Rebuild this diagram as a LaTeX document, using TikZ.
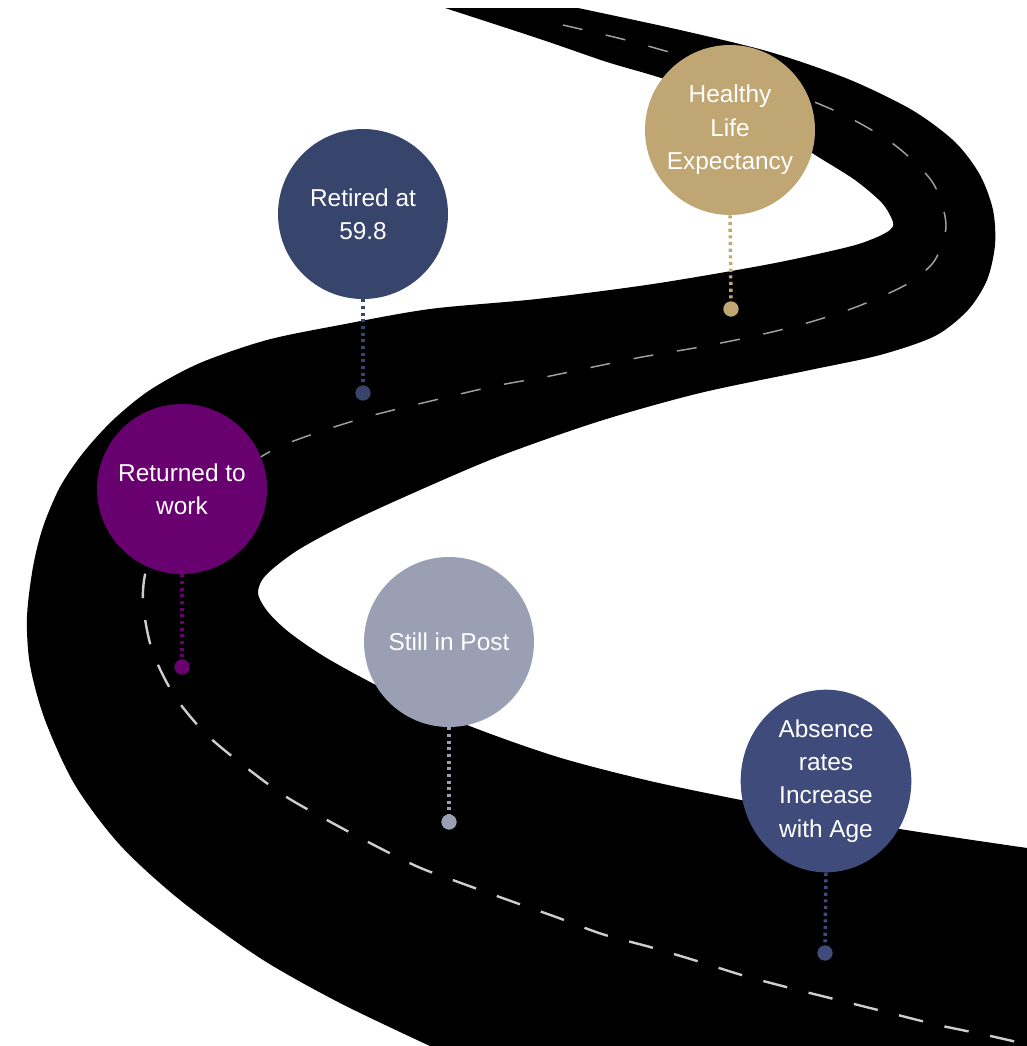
\documentclass[tikz,border=0pt]{standalone}
\usepackage{fontspec}
\setmainfont{Liberation Sans}
\usetikzlibrary{shapes.geometric}
\definecolor{cTan}{RGB}{191,166,114}
\definecolor{cNavy}{RGB}{55,68,108}
\definecolor{cPurple}{RGB}{105,0,112}
\definecolor{cLav}{RGB}{154,159,180}
\definecolor{cBlue}{RGB}{63,76,123}
\definecolor{cDashA}{RGB}{160,160,160}
\definecolor{cDashB}{RGB}{205,205,205}
\begin{document}
\begin{tikzpicture}[x=0.75pt,y=-0.75pt,
  bubble/.style={circle, fill=#1, minimum size=127.5pt, inner sep=0pt, text=white, align=center, font=\fontsize{18.3}{25}\selectfont},
  dotnode/.style={circle, fill=#1, minimum size=11.5pt, inner sep=0pt},
  stemline/.style={draw=#1, line width=2.6pt, dash pattern=on 2.4pt off 2.6pt},
  farlane/.style={draw=cDashA, line width=1.1pt, dash pattern=on 15pt off 18pt},
  nearlane/.style={draw=cDashB, line width=1.8pt, dash pattern=on 18.5pt off 16.5pt}
]
\useasboundingbox (0,0) rectangle (1027,1046);
\fill[white] (0,0) rectangle (1027,1046);
% road
\fill[black] (445,8) -- plot[smooth] coordinates {(578,8) (680,30) (770,52) (848,79) (912,110) (955,142) (980,175) (993,210) (995,245) (987,280) (968,310) (935,336) (880,355) (810,370) (700,393) (600,421) (500,456) (420,490) (350,522) (298,550) (266,575) (258,593) (268,612) (290,633) (330,660) (400,697) (480,730) (561,758) (650,781) (741,800) (820,815) (906,830) (1027,848)}
  -- (1027,1046) -- plot[smooth] coordinates {(430,1046) (340,1003) (260,958) (180,900) (120,845) (75,785) (45,720) (30,665) (27,617) (33,567) (43,527) (60,487) (83,453) (113,420) (150,390) (200,363) (267,340) (340,325) (430,309) (537,299) (653,284) (770,264) (848,247) (875,238) (890,230) (893,222) (882,203) (855,180) (820,158) (780,133) (730,106) (667,80) (607,62) (540,39) (445,8)} -- cycle;
% lane markings
\draw[farlane] plot[smooth] coordinates {(563,25) (622,39) (669,52) (730,70) (790,92) (848,117) (896,146) (933,183) (946,225) (935,260) (912,281) (885,295) (848,310) (800,325) (750,337) (700,347) (642,357) (593,367) (545,377) (495,386) (435,400) (374,415) (325,430) (279,447) (240,470) (200,500)};
\draw[nearlane] plot[smooth] coordinates {(200,500) (165,535) (147,567) (143,602) (152,650) (174,695) (205,733) (243,765) (285,796) (327,820) (370,843) (416,866) (450,879) (508,900) (556,917) (602,934) (650,947) (697,961) (745,976) (794,989) (842,1001) (890,1013) (938,1025) (986,1035) (1030,1045)};
% bubbles
\node[bubble=cTan] (hle) at (730,130) {Healthy\\Life\\Expectancy};
\node[bubble=cNavy] (ret) at (363,214) {Retired at\\59.8};
\node[bubble=cPurple] (rtw) at (182,489) {Returned to\\work};
\node[bubble=cLav] (sip) at (449,642) {Still in Post};
\node[bubble=cBlue, ellipse, minimum width=128pt, minimum height=137pt] (abs) at (826,781) {Absence\\rates\\Increase\\with Age};
% pins
\node[dotnode=cTan] (hled) at (731,309) {};
\node[dotnode=cNavy] (retd) at (363,393) {};
\node[dotnode=cPurple] (rtwd) at (182,667) {};
\node[dotnode=cLav] (sipd) at (449,822) {};
\node[dotnode=cBlue] (absd) at (825,953) {};
\draw[stemline=cTan] (hle.south) -- (hled.north);
\draw[stemline=cNavy] (ret.south) -- (retd.north);
\draw[stemline=cPurple] (rtw.south) -- (rtwd.north);
\draw[stemline=cLav] (sip.south) -- (sipd.north);
\draw[stemline=cBlue] (abs.south) -- (absd.north);
\end{tikzpicture}
\end{document}
